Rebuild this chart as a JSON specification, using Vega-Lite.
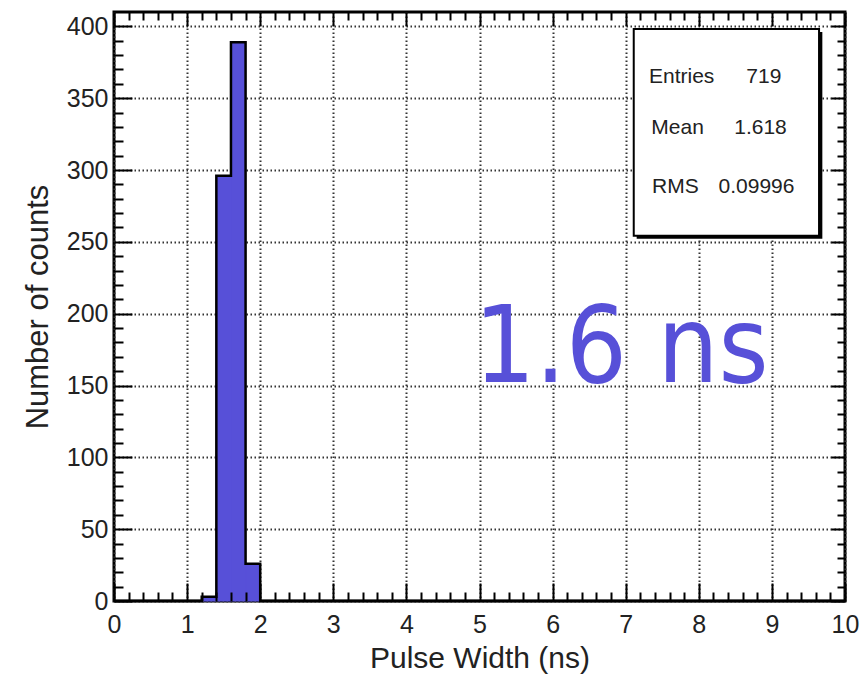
{
  "$schema": "https://vega.github.io/schema/vega-lite/v6.json",
  "width": 731,
  "height": 589,
  "autosize": {"type": "none"},
  "padding": {"left": 114, "top": 12, "right": 17, "bottom": 79},
  "background": "white",
  "datasets": {
    "bins": [
      {"x0": 1.2, "x1": 1.4, "count": 3},
      {"x0": 1.4, "x1": 1.6, "count": 296},
      {"x0": 1.6, "x1": 1.8, "count": 389},
      {"x0": 1.8, "x1": 2.0, "count": 26}
    ],
    "outline": [
      {"edge": 0, "count": 0},
      {"edge": 1.2, "count": 3},
      {"edge": 1.4, "count": 296},
      {"edge": 1.6, "count": 389},
      {"edge": 1.8, "count": 26},
      {"edge": 2.0, "count": 0},
      {"edge": 10, "count": 0}
    ],
    "one": [{}]
  },
  "config": {
    "view": {"stroke": "black", "strokeWidth": 3},
    "font": "Liberation Sans",
    "axis": {"labelFont": "Liberation Sans", "titleFont": "Liberation Sans", "labelColor": "#222", "titleColor": "#222", "titleFontWeight": "normal"}
  },
  "resolve": {"axis": {"x": "independent", "y": "independent"}},
  "layer": [
    {
      "data": {"name": "bins"},
      "mark": {"type": "rect", "color": "#5750d8", "stroke": "#5750d8", "strokeWidth": 1, "opacity": 1},
      "encoding": {
        "x": {"field": "x0", "type": "quantitative", "scale": {"domain": [0, 10], "nice": false, "zero": false},
          "axis": {"orient": "bottom", "values": [0,1,2,3,4,5,6,7,8,9,10], "ticks": false, "domain": false, "grid": true,
            "gridDash": [1.5, 2.5], "gridColor": "#333", "gridWidth": 2, "labelFontSize": 25, "labelPadding": 11, "labelFlush": false,
            "title": "Pulse Width (ns)", "titleFontSize": 30, "titlePadding": 6, "zindex": 0}},
        "x2": {"field": "x1"},
        "y": {"field": "count", "type": "quantitative", "scale": {"domain": [0, 410], "nice": false, "zero": true},
          "axis": {"orient": "left", "values": [0,50,100,150,200,250,300,350,400], "ticks": false, "domain": false, "grid": true,
            "gridDash": [1.5, 2.5], "gridColor": "#333", "gridWidth": 2, "labelFontSize": 25, "labelPadding": 6, "labelFlush": false,
            "title": "Number of counts", "titleFontSize": 31, "titlePadding": 12, "zindex": 0}},
        "y2": {"datum": 0}
      }
    },
    {
      "data": {"name": "outline"},
      "mark": {"type": "line", "interpolate": "step-after", "color": "black", "strokeWidth": 2.5},
      "encoding": {
        "x": {"field": "edge", "type": "quantitative", "scale": {"domain": [0, 10], "nice": false, "zero": false},
          "axis": {"orient": "bottom", "values": [0,1,2,3,4,5,6,7,8,9,10], "ticks": true, "tickSize": -18, "tickWidth": 2, "tickColor": "black",
            "labels": false, "domain": false, "grid": false, "title": null, "zindex": 1}},
        "y": {"field": "count", "type": "quantitative", "scale": {"domain": [0, 410], "nice": false, "zero": true},
          "axis": {"orient": "left", "values": [0,50,100,150,200,250,300,350,400], "ticks": true, "tickSize": -18, "tickWidth": 2, "tickColor": "black",
            "labels": false, "domain": false, "grid": false, "title": null, "zindex": 1}}
      }
    },
    {
      "data": {"name": "bins"},
      "mark": {"type": "point", "opacity": 0},
      "encoding": {
        "x": {"field": "x0", "type": "quantitative", "scale": {"domain": [0, 10], "nice": false, "zero": false},
          "axis": {"orient": "bottom", "values": [0.2,0.4,0.6,0.8,1.2,1.4,1.6,1.8,2.2,2.4,2.6,2.8,3.2,3.4,3.6,3.8,4.2,4.4,4.6,4.8,5.2,5.4,5.6,5.8,6.2,6.4,6.6,6.8,7.2,7.4,7.6,7.8,8.2,8.4,8.6,8.8,9.2,9.4,9.6,9.8],
            "ticks": true, "tickSize": -9, "tickWidth": 2, "tickColor": "black", "labels": false, "domain": false, "grid": false, "title": null, "zindex": 1}},
        "y": {"field": "count", "type": "quantitative", "scale": {"domain": [0, 410], "nice": false, "zero": true},
          "axis": {"orient": "left", "values": [10,20,30,40,60,70,80,90,110,120,130,140,160,170,180,190,210,220,230,240,260,270,280,290,310,320,330,340,360,370,380,390],
            "ticks": true, "tickSize": -9, "tickWidth": 2, "tickColor": "black", "labels": false, "domain": false, "grid": false, "title": null, "zindex": 1}}
      }
    },
    {
      "data": {"name": "bins"},
      "mark": {"type": "point", "opacity": 0},
      "encoding": {
        "x": {"field": "x0", "type": "quantitative", "scale": {"domain": [0, 10], "nice": false, "zero": false},
          "axis": {"orient": "top", "values": [0,1,2,3,4,5,6,7,8,9,10], "ticks": true, "tickSize": -14, "tickWidth": 2, "tickColor": "black",
            "labels": false, "domain": false, "grid": false, "title": null, "zindex": 1}},
        "y": {"field": "count", "type": "quantitative", "scale": {"domain": [0, 410], "nice": false, "zero": true},
          "axis": {"orient": "right", "values": [0,50,100,150,200,250,300,350,400], "ticks": true, "tickSize": -14, "tickWidth": 2, "tickColor": "black",
            "labels": false, "domain": false, "grid": false, "title": null, "zindex": 1}}
      }
    },
    {
      "data": {"name": "bins"},
      "mark": {"type": "point", "opacity": 0},
      "encoding": {
        "x": {"field": "x0", "type": "quantitative", "scale": {"domain": [0, 10], "nice": false, "zero": false},
          "axis": {"orient": "top", "values": [0.2,0.4,0.6,0.8,1.2,1.4,1.6,1.8,2.2,2.4,2.6,2.8,3.2,3.4,3.6,3.8,4.2,4.4,4.6,4.8,5.2,5.4,5.6,5.8,6.2,6.4,6.6,6.8,7.2,7.4,7.6,7.8,8.2,8.4,8.6,8.8,9.2,9.4,9.6,9.8],
            "ticks": true, "tickSize": -8, "tickWidth": 2, "tickColor": "black", "labels": false, "domain": false, "grid": false, "title": null, "zindex": 1}},
        "y": {"field": "count", "type": "quantitative", "scale": {"domain": [0, 410], "nice": false, "zero": true},
          "axis": {"orient": "right", "values": [10,20,30,40,60,70,80,90,110,120,130,140,160,170,180,190,210,220,230,240,260,270,280,290,310,320,330,340,360,370,380,390],
            "ticks": true, "tickSize": -8, "tickWidth": 2, "tickColor": "black", "labels": false, "domain": false, "grid": false, "title": null, "zindex": 1}}
      }
    },
    {
      "data": {"name": "one"},
      "mark": {"type": "rect", "color": "black", "opacity": 1},
      "encoding": {
        "x": {"datum": 7.15, "type": "quantitative", "scale": {"domain": [0, 10], "nice": false, "zero": false}, "axis": null},
        "x2": {"datum": 9.69},
        "y": {"datum": 396.1, "type": "quantitative", "scale": {"domain": [0, 410], "nice": false, "zero": true}, "axis": null},
        "y2": {"datum": 252.2}
      }
    },
    {
      "data": {"name": "one"},
      "mark": {"type": "rect", "fill": "white", "stroke": "black", "strokeWidth": 2, "opacity": 1},
      "encoding": {
        "x": {"datum": 7.11, "type": "quantitative", "scale": {"domain": [0, 10], "nice": false, "zero": false}, "axis": null},
        "x2": {"datum": 9.645},
        "y": {"datum": 398.2, "type": "quantitative", "scale": {"domain": [0, 410], "nice": false, "zero": true}, "axis": null},
        "y2": {"datum": 254.3}
      }
    },
    {
      "data": {"name": "one"},
      "mark": {"type": "text", "fontSize": 21, "color": "#222", "baseline": "middle", "align": "center", "text": "Entries"},
      "encoding": {
        "x": {"datum": 7.765, "type": "quantitative", "scale": {"domain": [0, 10], "nice": false, "zero": false}, "axis": null},
        "y": {"datum": 365, "type": "quantitative", "scale": {"domain": [0, 410], "nice": false, "zero": true}, "axis": null}
      }
    },
    {
      "data": {"name": "one"},
      "mark": {"type": "text", "fontSize": 21, "color": "#222", "baseline": "middle", "align": "center", "text": "719"},
      "encoding": {
        "x": {"datum": 8.89, "type": "quantitative", "scale": {"domain": [0, 10], "nice": false, "zero": false}, "axis": null},
        "y": {"datum": 365, "type": "quantitative", "scale": {"domain": [0, 410], "nice": false, "zero": true}, "axis": null}
      }
    },
    {
      "data": {"name": "one"},
      "mark": {"type": "text", "fontSize": 21, "color": "#222", "baseline": "middle", "align": "center", "text": "Mean"},
      "encoding": {
        "x": {"datum": 7.71, "type": "quantitative", "scale": {"domain": [0, 10], "nice": false, "zero": false}, "axis": null},
        "y": {"datum": 329.3, "type": "quantitative", "scale": {"domain": [0, 410], "nice": false, "zero": true}, "axis": null}
      }
    },
    {
      "data": {"name": "one"},
      "mark": {"type": "text", "fontSize": 21, "color": "#222", "baseline": "middle", "align": "center", "text": "1.618"},
      "encoding": {
        "x": {"datum": 8.844, "type": "quantitative", "scale": {"domain": [0, 10], "nice": false, "zero": false}, "axis": null},
        "y": {"datum": 329.3, "type": "quantitative", "scale": {"domain": [0, 410], "nice": false, "zero": true}, "axis": null}
      }
    },
    {
      "data": {"name": "one"},
      "mark": {"type": "text", "fontSize": 21, "color": "#222", "baseline": "middle", "align": "center", "text": "RMS"},
      "encoding": {
        "x": {"datum": 7.68, "type": "quantitative", "scale": {"domain": [0, 10], "nice": false, "zero": false}, "axis": null},
        "y": {"datum": 288.4, "type": "quantitative", "scale": {"domain": [0, 410], "nice": false, "zero": true}, "axis": null}
      }
    },
    {
      "data": {"name": "one"},
      "mark": {"type": "text", "fontSize": 21, "color": "#222", "baseline": "middle", "align": "center", "text": "0.09996"},
      "encoding": {
        "x": {"datum": 8.789, "type": "quantitative", "scale": {"domain": [0, 10], "nice": false, "zero": false}, "axis": null},
        "y": {"datum": 288.4, "type": "quantitative", "scale": {"domain": [0, 410], "nice": false, "zero": true}, "axis": null}
      }
    },
    {
      "data": {"name": "one"},
      "mark": {"type": "text", "fontSize": 107, "font": "DejaVu Sans Condensed, DejaVu Sans", "color": "#5750d8", "baseline": "alphabetic", "align": "center", "text": "1.6 ns"},
      "encoding": {
        "x": {"datum": 6.94, "type": "quantitative", "scale": {"domain": [0, 10], "nice": false, "zero": false}, "axis": null},
        "y": {"datum": 152.6, "type": "quantitative", "scale": {"domain": [0, 410], "nice": false, "zero": true}, "axis": null}
      }
    }
  ]
}
